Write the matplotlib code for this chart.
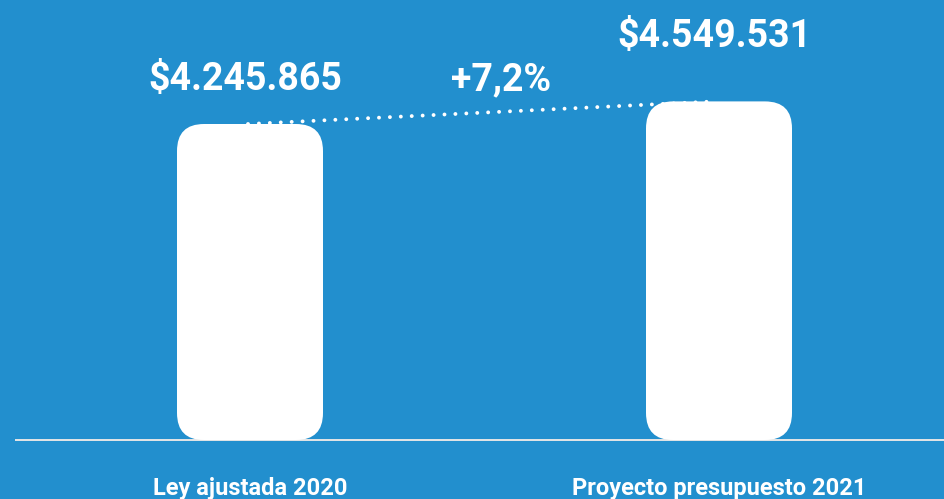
import matplotlib
matplotlib.use("Agg")
import matplotlib.pyplot as plt
from matplotlib.patches import FancyBboxPatch

categories = ["Ley ajustada 2020", "Proyecto presupuesto 2021"]
values = [4245865, 4549531]
value_labels = ["$4.245.865", "$4.549.531"]
change_label = "+7,2%"

BG = "#228FCE"
plt.rcParams["font.family"] = ["Roboto", "DejaVu Sans"]

W, H, DPI = 945, 499, 100
fig = plt.figure(figsize=(W / DPI, H / DPI), dpi=DPI, facecolor=BG)
ax = fig.add_axes([0, 0, 1, 1])
ax.set_facecolor(BG)
ax.axis("off")

# pixel geometry of the layout
base_px = 440          # baseline, from top
top1_px = 124          # top of first bar
x_px = [250, 719]      # bar centres
bar_w_px = 146
radius_px = 27

ky = (base_px - top1_px) / values[0]     # px per value unit
kx = x_px[1] - x_px[0]                    # px per category step
ax.set_xlim(-x_px[0] / kx, (W - x_px[0]) / kx)
ax.set_ylim(-(H - base_px) / ky, base_px / ky)
aspect = kx / ky
bw = bar_w_px / kx

for i, v in enumerate(values):
    p = FancyBboxPatch((i - bw / 2, 0), bw, v,
                       boxstyle=f"round,pad=0,rounding_size={radius_px / kx}",
                       mutation_aspect=aspect, facecolor="white",
                       edgecolor="none", zorder=3)
    ax.add_patch(p)

# baseline
ax.plot([15 / kx - x_px[0] / kx, (W - x_px[0]) / kx], [0, 0],
        color="#e6e6e6", lw=1.4, zorder=2, solid_capstyle="butt")

# dotted connector between bar tops
ax.plot([-2 / kx, 1 - 4 / kx], [values[0], values[1]], color="white",
        lw=2.8, linestyle=(0, (0.01, 2.8)), dash_capstyle="round", zorder=2)

for i, v in enumerate(values):
    off = [44, 65][i]
    ax.annotate(value_labels[i], (i - 5 / kx, v), xytext=(0, off),
                textcoords="offset pixels", ha="center", va="center",
                color="white", fontsize=27, fontweight="bold")
    ax.annotate(categories[i], (i, 0), xytext=(0, -49),
                textcoords="offset pixels", ha="center", va="center",
                color="white", fontsize=17, fontweight="bold")

ax.annotate(change_label, (0.5, (values[0] + values[1]) / 2), xytext=(17, 33),
            textcoords="offset pixels", ha="center", va="center",
            color="white", fontsize=27, fontweight="bold")

fig.savefig("out.png", dpi=DPI, facecolor=BG)
